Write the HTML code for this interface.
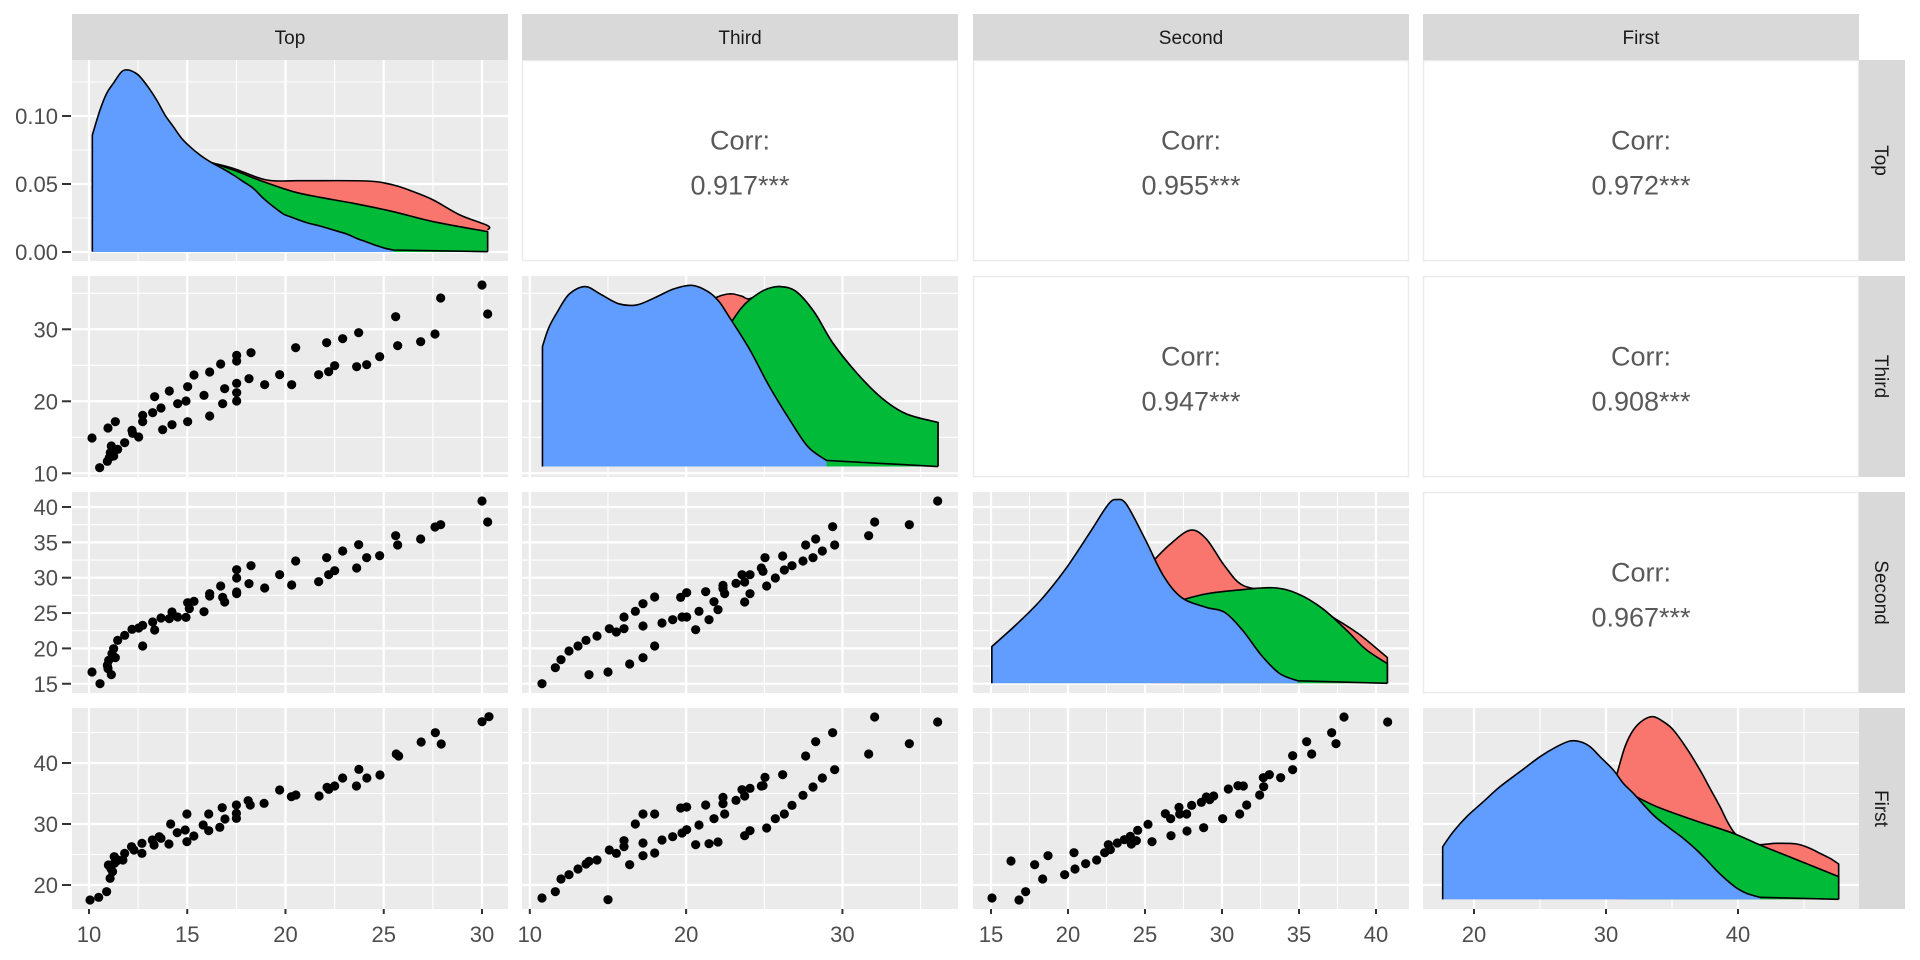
<!DOCTYPE html>
<html><head><meta charset="utf-8"><style>
html,body{margin:0;padding:0;background:#fff;}
svg{display:block;font-family:"Liberation Sans",Arial,sans-serif;}
</style></head><body>
<svg id="s" width="1920" height="960" xmlns="http://www.w3.org/2000/svg"></svg>
<script>
var S=document.getElementById('s');var out='';
var colX=[72,522,973,1423],rowY=[60,276,492,708],W=436,H=201;
var names=['Top','Third','Second','First'];
function xf(c,v){if(c==0)return 89+(v-10)*19.65;if(c==1)return 522+(v-9.5)*15.63;if(c==2)return 991+(v-15)*15.4;return 1474+(v-20)*13.2;}
function yf(r,v){if(r==0)return 252-v*1360;if(r==1)return 276+(37.4-v)*7.2;if(r==2)return 507+(40-v)*7.07;return 885-(v-20)*6.1;}
var xg=[[7.5,10,12.5,15,17.5,20,22.5,25,27.5,30,32.5],[10,15,20,25,30,35],[15,17.5,20,22.5,25,27.5,30,32.5,35,37.5,40,42.5],[20,25,30,35,40,45]];
var xmaj=[[10,15,20,25,30],[10,20,30],[15,20,25,30,35,40],[20,30,40]];
var xlab=[['10','15','20','25','30'],['10','20','30'],['15','20','25','30','35','40'],['20','30','40']];
var yg=[[0,0.025,0.05,0.075,0.1,0.125],[10,15,20,25,30,35],[15,17.5,20,22.5,25,27.5,30,32.5,35,37.5,40,42.5],[20,25,30,35,40,45]];
var ymaj=[[0,0.05,0.1],[10,20,30],[15,20,25,30,35,40],[20,30,40]];
var ylab=[['0.00','0.05','0.10'],['10','20','30'],['15','20','25','30','35','40'],['20','30','40']];
function isMaj(a,v){for(var i=0;i<a.length;i++)if(Math.abs(a[i]-v)<1e-6)return true;return false;}
var corr={'0,1':'0.917***','0,2':'0.955***','0,3':'0.972***','1,2':'0.947***','1,3':'0.908***','2,3':'0.967***'};
for(var r=0;r<4;r++)for(var c=0;c<4;c++){
 var x0=colX[c],y0=rowY[r];
 if(c>r){
  out+='<rect x="'+(x0+0.5)+'" y="'+(y0+0.5)+'" width="'+(W-1)+'" height="'+(H-1)+'" fill="#fff" stroke="#ebebeb" stroke-width="1.5"/>';
  var cy=y0+H/2;
  out+='<text x="'+(x0+W/2)+'" y="'+(cy-11)+'" font-size="27" fill="#595959" text-anchor="middle">Corr:</text>';
  out+='<text x="'+(x0+W/2)+'" y="'+(cy+34)+'" font-size="27" fill="#595959" text-anchor="middle">'+corr[r+','+c]+'</text>';
  continue;
 }
 out+='<rect x="'+x0+'" y="'+y0+'" width="'+W+'" height="'+H+'" fill="#ebebeb"/>';
 out+='<g clip-path="url(#c'+r+c+')">';
 yg[r].forEach(function(v){var y=yf(r,v);if(y<y0||y>y0+H)return;out+='<line x1="'+x0+'" x2="'+(x0+W)+'" y1="'+y+'" y2="'+y+'" stroke="#fff" stroke-width="'+(isMaj(ymaj[r],v)?2.2:1.1)+'"/>';});
 xg[c].forEach(function(v){var x=xf(c,v);if(x<x0||x>x0+W)return;out+='<line y1="'+y0+'" y2="'+(y0+H)+'" x1="'+x+'" x2="'+x+'" stroke="#fff" stroke-width="'+(isMaj(xmaj[c],v)?2.2:1.1)+'"/>';});
 out+='</g>';
}
var defs='<defs>';for(var r=0;r<4;r++)for(var c=0;c<4;c++)defs+='<clipPath id="c'+r+c+'"><rect x="'+colX[c]+'" y="'+rowY[r]+'" width="'+W+'" height="'+H+'"/></clipPath>';defs+='</defs>';
for(var c=0;c<4;c++){out+='<rect x="'+colX[c]+'" y="14" width="'+W+'" height="46" fill="#d9d9d9"/><text x="'+(colX[c]+W/2)+'" y="44" font-size="19" fill="#1a1a1a" text-anchor="middle">'+names[c]+'</text>';}
for(var r=0;r<4;r++){var cy=rowY[r]+H/2;out+='<rect x="1859" y="'+rowY[r]+'" width="46" height="'+H+'" fill="#d9d9d9"/><text transform="translate(1875,'+cy+') rotate(90)" font-size="19" fill="#1a1a1a" text-anchor="middle">'+names[r]+'</text>';}
for(var c=0;c<4;c++){xmaj[c].forEach(function(v,i){var x=xf(c,v);out+='<line x1="'+x+'" x2="'+x+'" y1="909" y2="914" stroke="#333" stroke-width="2"/><text x="'+x+'" y="942" font-size="22" fill="#4d4d4d" text-anchor="middle">'+xlab[c][i]+'</text>';});}
for(var r=0;r<4;r++){ymaj[r].forEach(function(v,i){var y=yf(r,v);out+='<line x1="62" x2="71" y1="'+y+'" y2="'+y+'" stroke="#333" stroke-width="2"/><text x="58" y="'+(y+8)+'" font-size="22" fill="#4d4d4d" text-anchor="end">'+ylab[r][i]+'</text>';});}
function smoothD(p){var d='';for(var i=0;i<p.length-1;i++){var p0=p[i>0?i-1:i],p1=p[i],p2=p[i+1],p3=p[i+2<p.length?i+2:i+1];
 var c1=[p1[0]+(p2[0]-p0[0])/6,p1[1]+(p2[1]-p0[1])/6],c2=[p2[0]-(p3[0]-p1[0])/6,p2[1]-(p3[1]-p1[1])/6];
 d+=' C'+c1[0]+','+c1[1]+' '+c2[0]+','+c2[1]+' '+p2[0]+','+p2[1];}return d;}
function poly(pts,base,fill){var p=pts.slice();while(Math.abs(p[0][1]-base)<1.5&&p.length>2)p.shift();while(Math.abs(p[p.length-1][1]-base)<1.5&&p.length>2)p.pop();
 var l='M'+p[0][0]+','+p[0][1]+smoothD(p);
 var d='M'+p[0][0]+','+base+' L'+p[0][0]+','+p[0][1]+smoothD(p)+' L'+p[p.length-1][0]+','+base+' Z';
 var full=pts;var lf='M'+full[0][0]+','+full[0][1];
 var dl=(Math.abs(pts[0][1]-base)<1.5?'M'+pts[0][0]+','+pts[0][1]+' L'+p[0][0]+','+p[0][1]:'M'+p[0][0]+','+p[0][1])+smoothD(p)+(Math.abs(pts[pts.length-1][1]-base)<1.5?' L'+pts[pts.length-1][0]+','+pts[pts.length-1][1]:'');
 return '<path d="'+d+'" fill="'+fill+'"/><path d="'+dl+'" fill="none" stroke="#000" stroke-width="1.6" stroke-linejoin="round"/>';}
function sc(a,k,ox,oy){return a.map(function(p){return [ox+p[0]*k,oy+p[1]*k];});}
var R='#F8766D',G='#00BA38',B='#619CFF';
var rb=[[630,487],[700,505],[800,540],[900,542],[1100,543],[1180,555],[1240,575],[1300,600],[1380,645],[1463,677],[1463,690]];
var gb=[[630,487],[700,510],[790,545],[880,575],[960,592],[1060,610],[1180,635],[1300,665],[1463,695],[1463,755]];
var bb=[[277,755],[277,405],[300,330],[320,280],[340,250],[365,215],[385,210],[405,218],[420,230],[445,262],[470,300],[495,345],[520,380],[545,415],[570,440],[600,465],[630,485],[670,507],[700,525],[730,545],[760,565],[790,595],[820,620],[850,642],[870,650],[920,668],[960,678],[1000,690],[1040,702],[1070,715],[1100,726],[1130,737],[1160,746],[1180,750],[1240,755],[1463,755]];
out+=poly(sc(rb,1/3,0,0),252,R)+poly(sc(gb,1/3,0,0),252,G)+poly(sc(bb,1/3,0,0),252,B);
var k=1.2245;
var r2r=[[580,245],[590,241],[598,240],[606,242],[612,244],[625,238],[636,234],[650,238],[665,255],[680,280],[700,305],[720,325],[740,338],[766,345],[766,381]];
var r2g=[[598,262],[605,252],[612,245],[624,237],[636,234],[650,238],[665,255],[680,280],[700,305],[720,325],[740,338],[766,345],[766,381]];
var r2b=[[443,381],[443,283],[448,268],[455,255],[465,240],[478,234],[490,240],[505,248],[520,249],[535,243],[550,236],[565,233],[578,238],[587,246],[595,258],[612,285],[628,315],[645,343],[660,365],[675,376],[690,380],[766,381]];
out+=poly(sc(r2r,k,0,0),381*k,R)+poly(sc(r2g,k,0,0),381*k,G)+poly(sc(r2b,k,0,0),381*k,B);
var r3r=[[940,460],[955,445],[972,433],[985,440],[1000,462],[1015,478],[1040,483],[1065,490],[1090,505],[1110,518],[1133,537],[1133,558]];
var r3g=[[965,490],[985,485],[1010,482],[1040,480],[1060,485],[1080,497],[1100,515],[1115,530],[1133,542],[1133,558]];
var r3b=[[810,558],[810,528],[830,510],[850,490],[870,465],[890,435],[905,412],[912,408],[920,412],[935,440],[950,470],[965,488],[985,496],[1000,500],[1015,515],[1030,535],[1045,550],[1060,556],[1080,558],[1133,558]];
out+=poly(sc(r3r,k,0,0),558*k,R)+poly(sc(r3g,k,0,0),558*k,G)+poly(sc(r3b,k,0,0),558*k,B);
var r4r=[[650,345],[675,260],[700,210],[730,180],[760,170],[790,185],[820,210],[860,265],[900,330],[930,385],[960,440],[985,490],[1010,525],[1060,553],[1130,550],[1190,552],[1230,565],[1260,580],[1290,595],[1316,612],[1316,718]];
var r4g=[[690,400],[770,440],[880,480],[1000,520],[1080,555],[1180,595],[1316,650],[1316,718]];
var r4b=[[128,718],[128,560],[160,515],[200,470],[250,425],[300,380],[360,335],[420,290],[470,260],[510,243],[540,245],[570,260],[600,290],[640,330],[670,370],[700,400],[760,465],[810,505],[850,535],[890,570],[920,600],[950,632],[980,660],[1010,684],[1040,700],[1080,712],[1120,716],[1200,718],[1316,718]];
out+=poly(sc(r4r,1/3,1400,660),660+718/3,R)+poly(sc(r4g,1/3,1400,660),660+718/3,G)+poly(sc(r4b,1/3,1400,660),660+718/3,B);
function pts(a,ox,oy){a.forEach(function(p){out+='<circle cx="'+(ox+p[0]/3)+'" cy="'+(oy+p[1]/3)+'" r="4.6" fill="#000"/>';});}
pts([[60,486],[83,575],[106,556],[108,456],[118,510],[125,540],[130,437],[137,520],[158,500],[180,463],[182,472],[200,483],[212,418],[212,437],[242,410],[248,362],[267,396],[272,461],[292,345],[300,446],[317,383],[342,375],[347,332],[347,437],[366,297],[396,358],[413,288],[413,420],[446,264],[452,383],[458,338],[494,238],[494,255],[494,322],[494,350],[494,375],[531,308],[537,230],[578,326],[623,296],[659,326],[671,215],[740,296],[764,200],[770,287],[788,269],[812,188],[854,272],[860,170],[884,266],[923,242],[971,122],[977,209],[1046,197],[1089,174],[1106,66],[1230,27],[1247,114],[115,530],[112,545]],72,276);
pts([[60,540],[84,575],[106,520],[108,530],[118,548],[125,470],[130,497],[137,445],[158,430],[180,412],[200,408],[212,462],[212,400],[242,390],[248,414],[267,378],[292,380],[300,360],[317,375],[342,376],[347,332],[352,350],[366,328],[396,359],[413,305],[413,312],[446,282],[452,316],[458,330],[494,233],[494,258],[494,300],[494,305],[531,275],[537,221],[578,288],[623,248],[659,279],[671,207],[740,269],[764,197],[770,248],[788,236],[812,177],[854,228],[860,158],[884,197],[923,191],[971,131],[977,159],[1046,141],[1089,105],[1106,98],[1230,27],[1247,90],[110,505],[120,485]],72,492);
var z5=[[265,630],[290,622],[313,605],[318,525],[323,565],[330,545],[335,500],[340,515],[345,510],[360,510],[365,490],[385,470],[392,480],[415,460],[415,490],[445,450],[450,465],[465,440],[470,445],[493,462],[498,402],[517,428],[540,420],[545,372],[545,455],[565,438],[592,405],[608,372],[608,422],[640,412],[647,353],[655,387],[688,345],[688,370],[688,385],[722,332],[728,345],[768,340],[813,300],[847,320],[860,315],[927,318],[950,292],[955,298],[972,288],[995,264],[1035,288],[1042,238],[1065,264],[1103,255],[1150,192],[1157,198],[1222,156],[1263,128],[1280,162],[1398,95],[1418,80],[325,535],[335,520]];
z5.forEach(function(p){var x=89+(p[0]-262)*0.346,y=690+p[1]/3;out+='<circle cx="'+x+'" cy="'+y+'" r="4.6" fill="#000"/>';});
pts([[60,575],[100,527],[117,503],[141,477],[168,462],[192,445],[201,548],[225,432],[258,540],[262,410],[283,420],[306,375],[306,410],[323,516],[340,358],[363,335],[363,402],[363,497],[398,315],[398,462],[420,393],[452,383],[476,316],[480,375],[494,302],[494,375],[521,413],[531,358],[551,299],[561,383],[576,329],[588,353],[603,280],[603,290],[608,305],[642,274],[660,248],[668,270],[668,330],[684,248],[684,305],[718,228],[723,238],[729,197],[734,282],[760,258],[782,192],[787,234],[810,221],[843,207],[851,159],[873,197],[881,141],[901,177],[932,104],[938,159],[1040,131],[1058,90],[1162,98],[1247,27]],522,492);
pts([[60,570],[100,551],[117,513],[141,500],[168,483],[192,468],[201,460],[225,456],[258,575],[262,426],[283,436],[306,398],[306,416],[323,470],[340,348],[363,318],[363,405],[363,443],[398,318],[398,435],[420,396],[452,386],[476,300],[480,375],[494,297],[494,365],[521,410],[531,351],[551,291],[561,407],[576,332],[588,402],[603,268],[603,287],[608,318],[642,277],[660,245],[668,264],[668,383],[684,241],[684,368],[718,234],[723,233],[729,208],[734,360],[760,332],[782,200],[787,318],[810,292],[843,262],[851,144],[873,237],[881,101],[901,210],[932,74],[938,185],[1040,138],[1058,27],[1162,107],[1247,42]],522,708);
pts([[57,570],[114,459],[138,576],[158,551],[185,470],[209,513],[225,443],[275,500],[303,434],[306,483],[338,467],[371,456],[395,434],[406,410],[412,425],[433,405],[454,395],[472,385],[475,408],[490,398],[494,367],[525,349],[537,401],[577,317],[593,332],[594,383],[618,298],[620,318],[641,318],[642,369],[656,292],[685,283],[692,359],[700,267],[710,275],[722,264],[749,332],[766,243],[795,233],[800,318],[811,234],[821,291],[860,261],[871,209],[872,236],[889,200],[923,209],[959,143],[959,185],[1001,101],[1016,138],[1076,74],[1089,107],[1113,27],[1244,42]],973,708);
S.innerHTML=defs+out;
</script>
</body></html>
